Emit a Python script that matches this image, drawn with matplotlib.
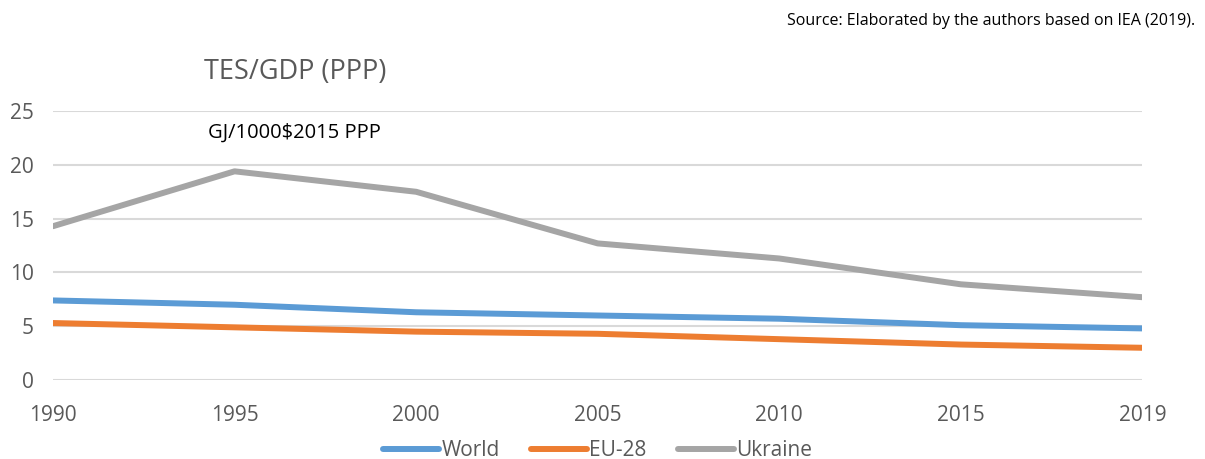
import matplotlib.pyplot as plt

# Chart data
years = ['1990', '1995', '2000', '2005', '2010', '2015', '2019']
world = [7.4, 7.0, 6.3, 6.0, 5.7, 5.1, 4.8]
eu28 = [5.3, 4.9, 4.5, 4.3, 3.8, 3.3, 3.0]
ukraine = [14.3, 19.4, 17.5, 12.7, 11.3, 8.9, 7.7]
y_ticks = [0, 5, 10, 15, 20, 25]

BLUE = '#5B9BD5'
ORANGE = '#ED7D31'
GRAY = '#A5A5A5'
TEXT_GRAY = '#595959'

plt.rcParams['font.family'] = ['Open Sans', 'DejaVu Sans']

fig = plt.figure(figsize=(12.05, 4.59), dpi=100)
ax = fig.add_axes([0.044, 0.172, 0.904, 0.586])

x = list(range(len(years)))
ax.plot(x, world, color=BLUE, lw=4.3, label='World', solid_capstyle='round')
ax.plot(x, eu28, color=ORANGE, lw=4.3, label='EU-28', solid_capstyle='round')
ax.plot(x, ukraine, color=GRAY, lw=4.3, label='Ukraine', solid_capstyle='round')

ax.set_xlim(0, len(years) - 1)
ax.set_ylim(0, 25)
ax.set_xticks(x)
ax.set_xticklabels(years)
ax.set_yticks(y_ticks)
ax.tick_params(axis='both', length=0, labelsize=15, labelcolor=TEXT_GRAY)
ax.tick_params(axis='x', pad=18)
ax.tick_params(axis='y', pad=14)

ax.grid(axis='y', color='#D9D9D9', lw=1.5)
ax.set_axisbelow(True)
for s in ax.spines.values():
    s.set_visible(False)

fig.text(0.245, 0.843, 'TES/GDP (PPP)', fontsize=19.5, color=TEXT_GRAY, ha='center', va='center')
ax.text(1.33, 22.95, 'GJ/1000$2015 PPP', fontsize=14.5, color='#000000', ha='center', va='center')
fig.text(0.992, 0.955, 'Source: Elaborated by the authors based on IEA (2019).',
         fontsize=11.5, color='#000000', ha='right', va='center')

leg = ax.legend(loc='center', bbox_to_anchor=(0.5, -0.262), ncol=3, frameon=False,
                fontsize=15, handlelength=2.7, handletextpad=0.1, columnspacing=1.5,
                labelcolor=TEXT_GRAY)

fig.savefig('out.png', dpi=100, facecolor='white')
